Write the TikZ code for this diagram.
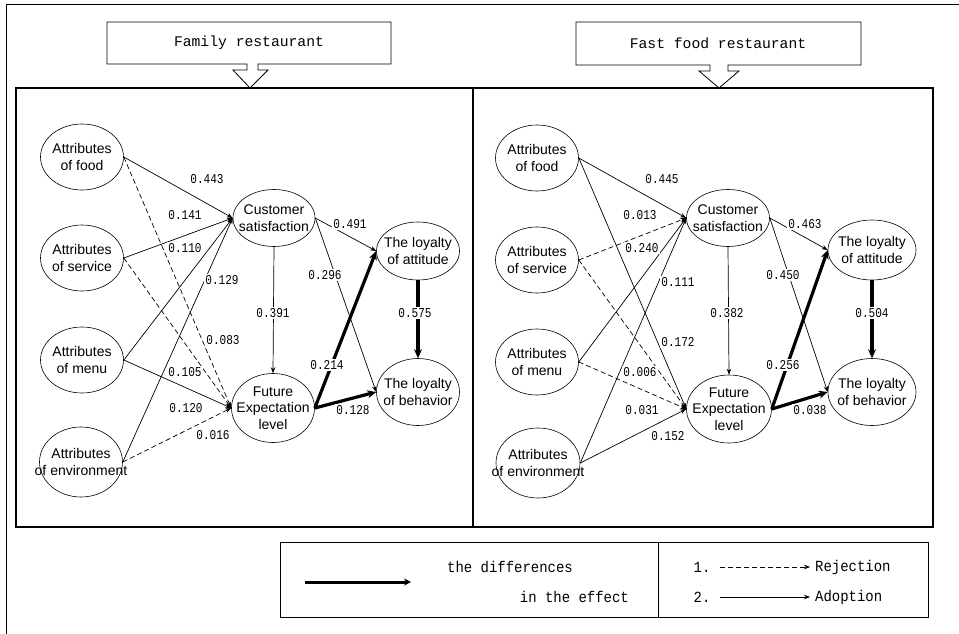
\documentclass[tikz,border=0pt]{standalone}
\usepackage{fontspec}
\setmainfont{Liberation Sans}
\newfontfamily\monofont{Liberation Mono}
\newfontfamily\labfont[FakeStretch=0.82]{Liberation Mono}
\newfontfamily\legfont[FakeStretch=0.9]{Liberation Mono}
\usetikzlibrary{arrows.meta,shapes.geometric}
\begin{document}
\begin{tikzpicture}[x=1pt,y=-1pt,
  txt/.style={font=\fontsize{14}{16.5}\selectfont, align=center, inner sep=0pt},
  ell/.style={draw, ellipse, inner sep=0pt, line width=0.6pt, label={[txt]center:#1}},
  lab/.style={fill=white, inner sep=1.2pt, font=\labfont\fontsize{13.5}{13.5}\selectfont},
  ttl/.style={font=\monofont\fontsize{14.7}{16}\selectfont, inner sep=0pt},
  leg/.style={font=\legfont\fontsize{15.5}{17}\selectfont, inner sep=0pt},
  arr/.style={line width=0.7pt, -{Stealth[length=6pt,width=4.5pt]}},
  darr/.style={arr, dash pattern=on 5pt off 3pt},
  tarr/.style={line width=3.2pt, -{Stealth[length=9pt,width=8pt]}},
  frame/.style={line width=1.2pt}]
\useasboundingbox (0,0) rectangle (959,634);

% outer frame
\draw[line width=1pt] (6,634) -- (6,5) -- (959,5);
% panels
\draw[frame] (16,88) rectangle (473,527);
\draw[frame] (473,88) -- (933,88) -- (933,527) -- (473,527);

% titles
\node[ttl] (t1) at (249,43) {Family restaurant};
\draw[line width=0.8pt] (247,64) -- (107,64) -- (107,22) -- (391,22) -- (391,64) -- (258,64)
  -- (258,70) -- (268,70) -- (250,88) -- (233,70) -- (247,70) -- cycle;
\node[ttl] (t2) at (718,43) {Fast food restaurant};
\draw[line width=0.8pt] (710,65) -- (576,65) -- (576,22) -- (861,22) -- (861,65) -- (728,65)
  -- (728,71) -- (739,71) -- (719,88) -- (699,71) -- (710,71) -- cycle;

% ---------- left panel nodes ----------
\node[ell={Attributes\\of food}, minimum width=83pt, minimum height=66pt] (lfood) at (82,157) {};
\node[ell={Attributes\\of service}, minimum width=83pt, minimum height=66pt] (lserv) at (82,258) {};
\node[ell={Attributes\\of menu}, minimum width=83pt, minimum height=66pt] (lmenu) at (82,360) {};
\node[ell={Attributes\\of environment}, minimum width=83pt, minimum height=70pt] (lenv) at (81,462) {};
\node[ell={Customer\\satisfaction}, minimum width=82pt, minimum height=57pt] (lcs) at (274,218) {};
\node[ell={Future\\Expectation\\level}, minimum width=83pt, minimum height=69pt] (lfe) at (273,408) {};
\node[ell={The loyalty\\of attitude}, minimum width=83pt, minimum height=58pt] (latt) at (418,251) {};
\node[ell={The loyalty\\of behavior}, minimum width=83pt, minimum height=67pt] (lbeh) at (418,392) {};

% ---------- right panel nodes ----------
\node[ell={Attributes\\of food}, minimum width=83pt, minimum height=66pt] (rfood) at (537,158) {};
\node[ell={Attributes\\of service}, minimum width=83pt, minimum height=66pt] (rserv) at (537,260) {};
\node[ell={Attributes\\of menu}, minimum width=83pt, minimum height=66pt] (rmenu) at (537,362) {};
\node[ell={Attributes\\of environment}, minimum width=84pt, minimum height=70pt] (renv) at (538,463) {};
\node[ell={Customer\\satisfaction}, minimum width=83pt, minimum height=57pt] (rcs) at (728,218) {};
\node[ell={Future\\Expectation\\level}, minimum width=85pt, minimum height=68pt] (rfe) at (729,409) {};
\node[ell={The loyalty\\of attitude}, minimum width=88pt, minimum height=60pt] (ratt) at (872,250) {};
\node[ell={The loyalty\\of behavior}, minimum width=88pt, minimum height=67pt] (rbeh) at (872,392) {};

% ---------- left edges ----------
\draw[arr] (lfood.east) -- (lcs.west);
\draw[arr] (lserv.east) -- (lcs.west);
\draw[arr] (lmenu.east) -- (lcs.west);
\draw[arr] (lenv.east) -- (lcs.west);
\draw[arr] (lmenu.east) -- (lfe.west);
\draw[darr] (lfood.east) -- (lfe.west);
\draw[darr] (lserv.east) -- (lfe.west);
\draw[darr] (lenv.east) -- (lfe.west);
\draw[arr] (lcs.south) -- (lfe.north);
\draw[arr] (lcs.east) -- (latt.west);
\draw[arr] (lcs.east) -- (lbeh.west);
\draw[tarr] (lfe.east) -- (latt.west);
\draw[tarr] (lfe.east) -- (lbeh.west);
\draw[tarr] (latt.south) -- (lbeh.north);

% ---------- right edges ----------
\draw[arr] (rfood.east) -- (rcs.west);
\draw[arr] (rfood.east) -- (rfe.west);
\draw[arr] (rmenu.east) -- (rcs.west);
\draw[arr] (renv.east) -- (rcs.west);
\draw[arr] (renv.east) -- (rfe.west);
\draw[darr] (rserv.east) -- (rcs.west);
\draw[darr] (rserv.east) -- (rfe.west);
\draw[darr] (rmenu.east) -- (rfe.west);
\draw[arr] (rcs.south) -- (rfe.north);
\draw[arr] (rcs.east) -- (ratt.west);
\draw[arr] (rcs.east) -- (rbeh.west);
\draw[tarr] (rfe.east) -- (ratt.west);
\draw[tarr] (rfe.east) -- (rbeh.west);
\draw[tarr] (ratt.south) -- (rbeh.north);

% ---------- left labels ----------
\node[lab] (l1) at (207,179) {0.443};
\node[lab] (l2) at (185,215) {0.141};
\node[lab] (l3) at (185,248) {0.110};
\node[lab] (l4) at (222,280) {0.129};
\node[lab] (l5) at (223,340) {0.083};
\node[lab] (l6) at (185,372) {0.105};
\node[lab] (l7) at (186,408) {0.120};
\node[lab] (l8) at (213,435) {0.016};
\node[lab] (l9) at (273,313) {0.391};
\node[lab] (l10) at (325,275) {0.296};
\node[lab] (l11) at (350,224) {0.491};
\node[lab] (l12) at (415,313) {0.575};
\node[lab] (l13) at (327,365) {0.214};
\node[lab] (l14) at (353,410) {0.128};

% ---------- right labels ----------
\node[lab] (r1) at (662,179) {0.445};
\node[lab] (r2) at (640,215) {0.013};
\node[lab] (r3) at (642,248) {0.240};
\node[lab] (r4) at (678,282) {0.111};
\node[lab] (r5) at (678,342) {0.172};
\node[lab] (r6) at (640,372) {0.006};
\node[lab] (r7) at (642,410) {0.031};
\node[lab] (r8) at (668,436) {0.152};
\node[lab] (r9) at (727,313) {0.382};
\node[lab] (r10) at (783,275) {0.450};
\node[lab] (r11) at (805,224) {0.463};
\node[lab] (r12) at (872,313) {0.504};
\node[lab] (r13) at (783,365) {0.256};
\node[lab] (r14) at (810,410) {0.038};

% ---------- legend ----------
\draw[line width=0.8pt] (280,542) rectangle (928,617);
\draw[line width=0.8pt] (658,542) -- (658,617);
\coordinate (g1) at (305,582);
\coordinate (g2) at (411,582);
\draw[line width=3pt, -{Stealth[length=7pt,width=7pt]}] (g1) -- (g2);
\node[leg] (gt1) at (510,567) {the differences};
\node[leg, anchor=east] (gt2) at (629,597) {in the effect};
\node[leg] (gn1) at (702,567) {1.};
\node[leg] (gn2) at (702,597) {2.};
\coordinate (d1) at (720,567);
\coordinate (d2) at (810,567);
\coordinate (s1) at (720,597);
\coordinate (s2) at (810,597);
\draw[darr] (d1) -- (d2);
\draw[arr] (s1) -- (s2);
\node[leg, anchor=west] (gr) at (815,567) {Rejection};
\node[leg, anchor=west] (ga) at (815,597) {Adoption};
\end{tikzpicture}
\end{document}
